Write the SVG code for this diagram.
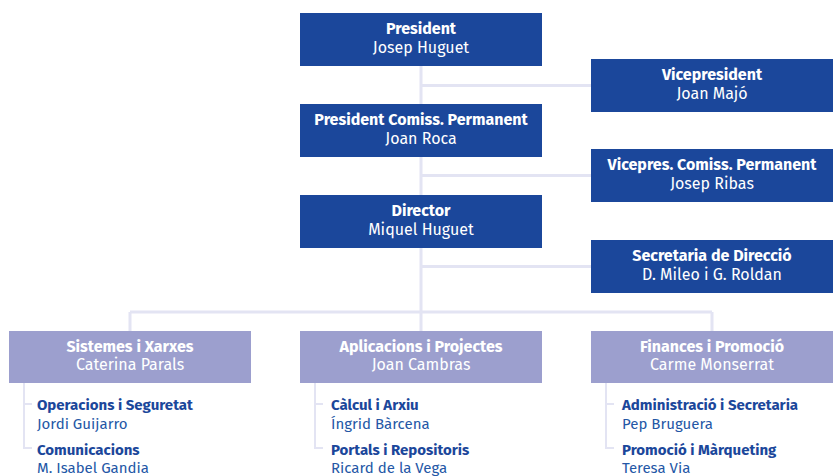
<svg xmlns="http://www.w3.org/2000/svg" width="839" height="476" viewBox="0 0 839 476">
<style>
.dk{fill:#1b479b}
.lt{fill:#9c9fce}
.t{font-family:"Fira Sans","Open Sans","Liberation Sans",sans-serif;font-size:16px;text-anchor:middle;fill:#fff}
.b{font-weight:bold}
.ln{stroke:#e3e4f3;stroke-width:3;fill:none}
.sl{stroke:#e3e4f3;stroke-width:2;fill:none}
.st{font-family:"Fira Sans","Open Sans","Liberation Sans",sans-serif;font-size:15px;fill:#1b479b}
.sn{font-family:"Fira Sans","Open Sans","Liberation Sans",sans-serif;font-size:15px;fill:#2457a6}
</style>
<g id="connectors">
<path class="ln" d="M421 66V331M421 85.5H591M421 175.5H591M421 266.5H591M130 312H712M130 312V331M712 312V331"/>
<path class="sl" d="M24 383V448H32M24 404H32M315 383V448H323M315 404H323M606 383V448H614M606 404H614"/>
</g>
<g id="president"><rect class="dk" x="300" y="13" width="242" height="53"/><text class="t b" x="421" y="34">President</text><text class="t" x="421" y="53">Josep Huguet</text></g>
<g id="vicepresident"><rect class="dk" x="591" y="59" width="242" height="53"/><text class="t b" x="712" y="80">Vicepresident</text><text class="t" x="712" y="99">Joan Majó</text></g>
<g id="president-comiss"><rect class="dk" x="300" y="104" width="242" height="53"/><text class="t b" x="421" y="125">President Comiss. Permanent</text><text class="t" x="421" y="144">Joan Roca</text></g>
<g id="vicepres-comiss"><rect class="dk" x="591" y="149" width="242" height="53"/><text class="t b" x="712" y="170">Vicepres. Comiss. Permanent</text><text class="t" x="712" y="189">Josep Ribas</text></g>
<g id="director"><rect class="dk" x="300" y="195" width="242" height="53"/><text class="t b" x="421" y="216">Director</text><text class="t" x="421" y="235">Miquel Huguet</text></g>
<g id="secretaria"><rect class="dk" x="591" y="240" width="242" height="53"/><text class="t b" x="712" y="261">Secretaria de Direcció</text><text class="t" x="712" y="280">D. Mileo i G. Roldan</text></g>
<g id="sistemes"><rect class="lt" x="9" y="331" width="242" height="52"/><text class="t b" x="130" y="352">Sistemes i Xarxes</text><text class="t" x="130" y="370">Caterina Parals</text></g>
<g id="aplicacions"><rect class="lt" x="300" y="331" width="242" height="52"/><text class="t b" x="421" y="352">Aplicacions i Projectes</text><text class="t" x="421" y="370">Joan Cambras</text></g>
<g id="finances"><rect class="lt" x="591" y="331" width="242" height="52"/><text class="t b" x="712" y="352">Finances i Promoció</text><text class="t" x="712" y="370">Carme Monserrat</text></g>
<g id="operacions"><text class="st b" x="37" y="410">Operacions i Seguretat</text><text class="sn" x="37" y="429">Jordi Guijarro</text></g>
<g id="comunicacions"><text class="st b" x="37" y="455">Comunicacions</text><text class="sn" x="37" y="473">M. Isabel Gandia</text></g>
<g id="calcul"><text class="st b" x="331" y="410">Càlcul i Arxiu</text><text class="sn" x="331" y="429">Íngrid Bàrcena</text></g>
<g id="portals"><text class="st b" x="331" y="455">Portals i Repositoris</text><text class="sn" x="331" y="473">Ricard de la Vega</text></g>
<g id="administracio"><text class="st b" x="622" y="410">Administració i Secretaria</text><text class="sn" x="622" y="429">Pep Bruguera</text></g>
<g id="promocio"><text class="st b" x="622" y="455">Promoció i Màrqueting</text><text class="sn" x="622" y="473">Teresa Via</text></g>
</svg>
